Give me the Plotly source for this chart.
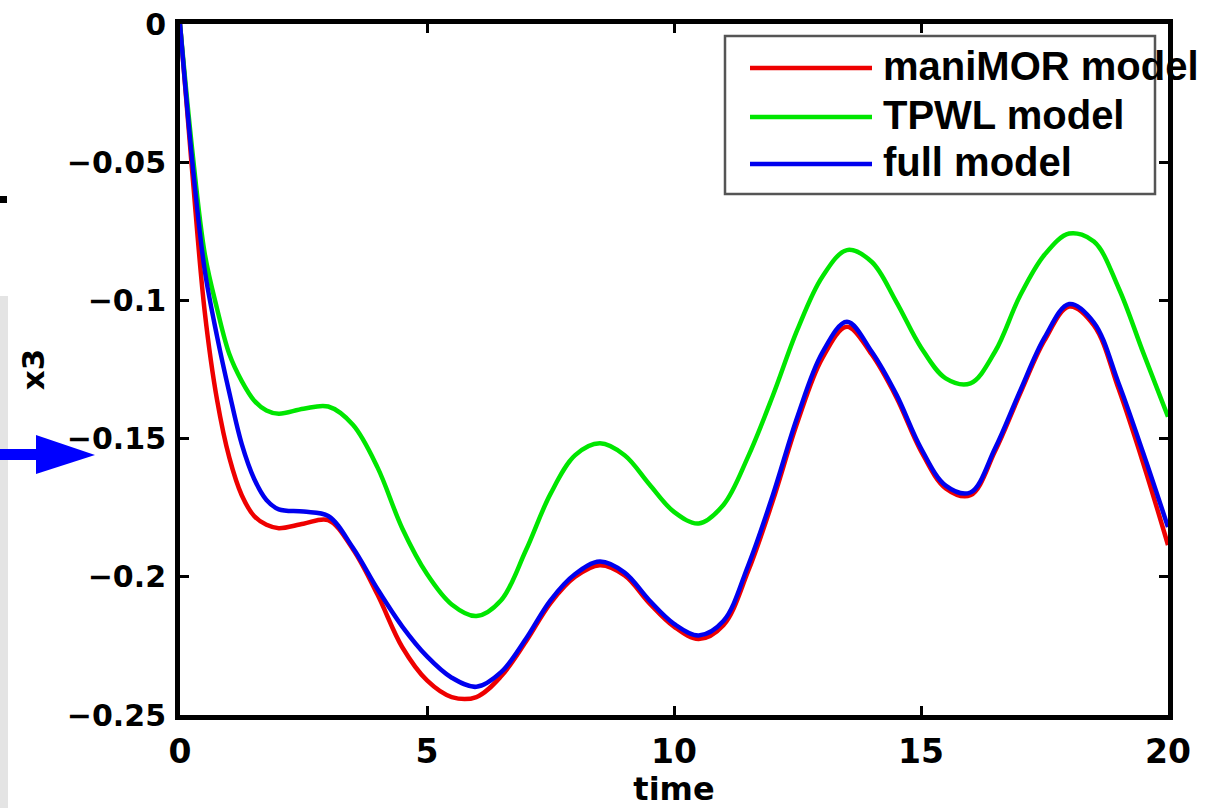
import plotly.graph_objects as go

# ---------------- data ----------------
time = [0, 0.25, 0.5, 0.75, 1, 1.25, 1.5, 1.75, 2, 2.5, 3, 3.5, 4, 4.5, 5, 5.5, 6,
        6.5, 7, 7.5, 8, 8.5, 9, 9.5, 10, 10.5, 11, 11.5, 12, 12.5, 13, 13.5, 14,
        14.5, 15, 15.5, 16, 16.5, 17, 17.5, 18, 18.5, 19, 19.5, 20]

manimor_model = [0, -0.054, -0.104, -0.136, -0.157, -0.1705, -0.1780, -0.1812, -0.1824,
                 -0.1808, -0.1795, -0.1900, -0.2065, -0.2255, -0.2375, -0.2435, -0.2435,
                 -0.2360, -0.2235, -0.2095, -0.2000, -0.1958, -0.1995, -0.2095, -0.2180,
                 -0.2225, -0.2175, -0.1980, -0.1725, -0.1440, -0.1210, -0.1095, -0.1195,
                 -0.1350, -0.1545, -0.1680, -0.1705, -0.1545, -0.1340, -0.1145, -0.1022,
                 -0.1090, -0.1320, -0.1590, -0.1885]

tpwl_model = [0, -0.046, -0.083, -0.1030, -0.1195, -0.1292, -0.1362, -0.1398, -0.1410,
              -0.1392, -0.1384, -0.1450, -0.1605, -0.1825, -0.1990, -0.2100, -0.2142,
              -0.2085, -0.1905, -0.1700, -0.1560, -0.1517, -0.1560, -0.1665, -0.1765,
              -0.1807, -0.1740, -0.1565, -0.1345, -0.1105, -0.0915, -0.0818, -0.0860,
              -0.1005, -0.1170, -0.1282, -0.1300, -0.1185, -0.0985, -0.0835, -0.0758,
              -0.0787, -0.0955, -0.1190, -0.1421]

full_model = [0, -0.050, -0.089, -0.113, -0.1335, -0.1520, -0.1645, -0.1722, -0.1756,
              -0.1764, -0.1780, -0.1895, -0.2045, -0.2180, -0.2288, -0.2365, -0.2398,
              -0.2345, -0.2225, -0.2085, -0.1990, -0.1945, -0.1985, -0.2085, -0.2170,
              -0.2212, -0.2160, -0.1960, -0.1705, -0.1420, -0.1190, -0.1077, -0.1185,
              -0.1340, -0.1535, -0.1670, -0.1695, -0.1535, -0.1330, -0.1135, -0.1013,
              -0.1080, -0.1300, -0.1553, -0.1820]

series_names = ["maniMOR model", "TPWL model", "full model"]
series_colors = ["#ee0000", "#00e600", "#0000ee"]

x_ticks = [0, 5, 10, 15, 20]
y_ticks = [0, -0.05, -0.1, -0.15, -0.2, -0.25]
y_ticktext = ["0", "\u22120.05", "\u22120.1", "\u22120.15", "\u22120.2", "\u22120.25"]

# ---------------- layout geometry ----------------
W, H = 1209, 808
L, R, T, B = 180, 1168, 24, 715   # plot area in pixels


def px(x):
    return (x - L) / (R - L)


def py(y):
    return (B - y) / (B - T)


fig = go.Figure()
for name, vals, col in zip(series_names, [manimor_model, tpwl_model, full_model], series_colors):
    fig.add_trace(go.Scatter(x=time, y=vals, mode="lines", name=name,
                             line=dict(color=col, width=4.5, shape="spline", smoothing=1.0),
                             showlegend=False))

axis_common = dict(showline=True, linecolor="black", linewidth=5, mirror="allticks",
                   ticks="inside", ticklen=9, tickwidth=3, tickcolor="black",
                   showgrid=False, zeroline=False)

fig.update_xaxes(range=[0, 20], tickvals=x_ticks,
                 tickfont=dict(family="DejaVu Sans", size=33, color="black", weight="bold"),
                 title=dict(text="time", font=dict(family="DejaVu Sans", size=32, color="black",
                                                   weight="bold"),
                            standoff=7),
                 ticklabelstandoff=3,
                 **axis_common)
fig.update_yaxes(range=[-0.25, 0], tickvals=y_ticks, ticktext=y_ticktext,
                 tickfont=dict(family="DejaVu Sans", size=30, color="black", weight="bold"),
                 title=dict(text="x3", font=dict(family="DejaVu Sans", size=31, color="black",
                                                 weight="bold"),
                            standoff=14),
                 ticklabelstandoff=3,
                 **axis_common)

shapes = []
# legend box (manual, to reproduce the long sample lines)
shapes.append(dict(type="rect", xref="paper", yref="paper", layer="below",
                   x0=px(725), x1=px(1155), y0=py(194), y1=py(36),
                   line=dict(color="#555555", width=2.5), fillcolor="white"))
legend_rows = [68, 117, 164]
for yrow, col in zip(legend_rows, series_colors):
    shapes.append(dict(type="line", xref="paper", yref="paper", layer="above",
                       x0=px(750), x1=px(872), y0=py(yrow), y1=py(yrow),
                       line=dict(color=col, width=4.5)))

# decorations outside the axes seen in the reference
shapes.append(dict(type="rect", xref="paper", yref="paper", layer="above",
                   x0=px(0), x1=px(8), y0=py(808), y1=py(296),
                   line=dict(width=0), fillcolor="#e4e4e4"))
shapes.append(dict(type="rect", xref="paper", yref="paper", layer="above",
                   x0=px(0), x1=px(7), y0=py(203), y1=py(196),
                   line=dict(width=0), fillcolor="black"))
shapes.append(dict(type="rect", xref="paper", yref="paper", layer="above",
                   x0=px(0), x1=px(40), y0=py(460), y1=py(449),
                   line=dict(width=0), fillcolor="#0000ff"))
ax0, ax1 = px(36), px(95)
ay_top, ay_mid, ay_bot = py(435), py(455), py(474)
shapes.append(dict(type="path", xref="paper", yref="paper", layer="above",
                   path=f"M {ax0},{ay_top} L {ax1},{ay_mid} L {ax0},{ay_bot} Z",
                   line=dict(width=0), fillcolor="#0000ff"))

annotations = []
for yrow, name in zip(legend_rows, series_names):
    annotations.append(dict(xref="paper", yref="paper", x=px(881), y=py(yrow - 2),
                            xanchor="left", yanchor="middle", showarrow=False,
                            text=name,
                            font=dict(family="Liberation Sans", size=40, color="black",
                                      weight="bold")))

fig.update_layout(width=W, height=H,
                  margin=dict(l=L, r=W - R, t=T, b=H - B, pad=0, autoexpand=False),
                  paper_bgcolor="white", plot_bgcolor="white",
                  shapes=shapes, annotations=annotations, showlegend=False)

fig.write_html("out.html")
